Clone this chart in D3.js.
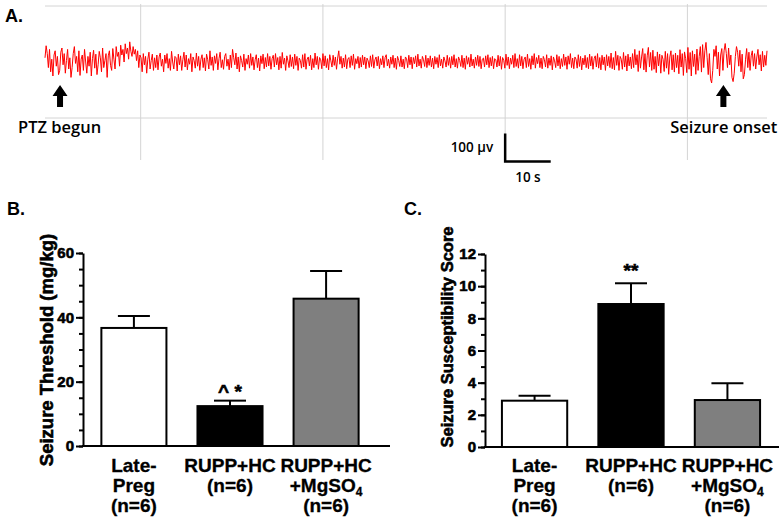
<!DOCTYPE html>
<html>
<head>
<meta charset="utf-8">
<script src="https://cdn.jsdelivr.net/npm/d3@7"></script>
<style>
  body { margin: 0; background: #fff; }
  text { font-family: "Liberation Sans", Arial, sans-serif; }
  .heavy { stroke: #000; stroke-width: 0.6px; }
</style>
</head>
<body>
<svg id="fig" width="782" height="524"></svg>
<script>
// ---- panel A: EEG trace (µV, one sample every 0.248 s, starting at -21 s) ----
const traceStart = -21;
const traceStep = 0.248;
const eegTrace = [
  15, 58, 30, -20, 45, -35, 10, -50, 25, 40, -15, 20, -45, -30, 35, 50, -10, 30, -40, 5,
  45, -25, 15, -55, -20, 30, 55, -5, 20, -35, 40, -48, 10, 25, -30, 45, 0, -40, 20, -15,
  35, -50, 12, 42, -22, 28, -45, -10, 38, 15, -35, 50, -20, 5, 30, -55, 22, 40, -12, -30,
  48, 10, -25, 55, 20, 35, -15, 60, 25, 45, 0, 65, 30, 50, 10, 72, 38, 20, 55, 28,
  45, 5, 40, -20, 25, 15, -35, 30, -10, 20, -40, 10, 35, -25, 5, 28, -30, 15, -20, 25,
  -28, 18, 32, -15, 10, -35, 25, -5, 30, -22, 12, -30, 38, 0, -25, 20, 15, -32, 28, -10,
  22, -30, 8, 35, -18, 25, -28, 12, -8, 30, -35, 18, 5, -22, 32, -15, 20, -30, 10, 26,
  -20, 15, -32, 28, 8, -25, 40, -12, 18, -30, 22, -5, 30, -28, 12, 35, -20, 8, -26, 20,
  30, -15, 10, -28, 25, -20, 45, 15, -10, 32, -25, 18, -35, 22, 5, -18, 28, -30, 12, -8,
  25, -22, 30, -12, 18, -28, 8, 26, -20, 14, -32, 22, -6, 28, -24, 16, -18, 30, -14, 20,
  -26, 12, 24, -18, 30, -10, 16, -28, 20, -22, 34, -8, 14, -30, 22, 4, -20, 26, -16, 18,
  -24, 28, -12, 20, -30, 14, 6, -22, 26, -18, 30, -26, 10, 18, -14, 24, -28, 12, -20, 32,
  -10, 20, -26, 16, 8, -24, 30, -14, 22, -20, 12, -28, 26, 4, -18, 24, -12, 18, -26, 14,
  40, -8, 20, -22, 14, -18, 26, -24, 10, 16, -20, 22, -12, 28, -26, 12, -6, 20, -22, 16,
  -18, 24, -10, 18, -24, 14, 4, -20, 22, -16, 26, -22, 8, 18, -14, 20, -24, 12, -10, 22,
  -20, 16, 26, -14, 10, -22, 18, -8, 24, -20, 14, -26, 20, 6, -16, 22, -18, 10, -24, 18,
  12, -20, 24, -10, 18, -24, 16, -6, 22, -18, 28, -14, 10, -22, 20, 8, -16, 24, -20, 14,
  -12, 22, -18, 14, -24, 20, -8, 16, -20, 26, -14, 10, -22, 18, 4, -18, 24, -12, 16, -22,
  20, -10, 26, -18, 12, -22, 18, 6, -16, 24, -20, 14, -26, 22, -8, 16, -18, 28, -14, 10,
  -22, 18, -12, 24, -16, 20, -24, 10, 14, -18, 22, -10, 26, -20, 16, -14, 20, -24, 12, 8,
  -18, 24, -14, 20, -26, 16, 6, -22, 28, -12, 18, -24, 14, -8, 24, -20, 30, -16, 12, -22,
  26, -14, 20, -24, 10, 18, -20, 28, -16, 12, -26, 22, -10, 30, -22, 16, -6, 24, -20, 14,
  -24, 20, 8, -18, 26, -22, 14, -12, 22, -28, 18, 4, -20, 26, -14, 20, -24, 12, -16, 28,
  -12, 18, -26, 22, -8, 30, -20, 14, -24, 18, 10, -22, 26, -16, 20, -28, 14, -10, 24, -20,
  16, -24, 28, -14, 20, -26, 12, 22, -18, 30, -22, 16, -28, 24, -10, 18, -30, 26, -14, 20,
  -20, 32, -24, 16, -28, 38, -12, 24, -30, 20, 10, -26, 34, -18, 22, -32, 28, -14, 18, -24,
  30, -20, 45, -10, 26, -34, 40, -22, 18, 48, -28, 30, -36, 22, 52, -18, 34, -30, 42, -26,
  20, -38, 36, -14, 28, -40, 24, 10, -34, 38, -22, 30, -44, 18, 40, -28, 26, -36, 32, -20,
  24, -42, 44, -18, 30, -48, 36, 12, -38, 52, -26, 34, -50, 40, -16, 28, -44, 46, -30, 20,
  55, -36, 62, -20, 40, 70, 15, -45, 30, -60, -75, -30, 45, 20, 58, -25, 35, -50, 25, 48,
  -30, 40, 66, 30, -20, 50, -10, 25, -55, -70, -40, 20, 55, 35, -15, 42, -35, 28, -60, -45,
  10, 48, -20, 35, -30, 22, 40, -15, 30, -25, 18, 45, -10, 26, -32, 38, -18, 24, -12, 40
];
const gridTimes = [0, 40, 80, 120];          // s
const gridVolts = [200, -200];               // µV
const events = [
  { t: -17.7, label: "PTZ begun", anchor: "start", dx: -42 },
  { t: 127.9, label: "Seizure onset", anchor: "end", dx: 54 }
];
const scaleBar = { t: 80, dt: 10, v: -355, dv: 100, vLabel: "100 µv", tLabel: "10 s" };

// ---- panels B and C ----
const groupLines = [["Late-", "Preg", "(n=6)"], ["RUPP+HC", "(n=6)"], ["RUPP+HC", "+MgSO4", "(n=6)"]];
const groupFills = ["#ffffff", "#000000", "#7f7f7f"];
const thresholdMean = [36.7, 12.4, 45.8];
const thresholdSem = [3.7, 1.7, 8.6];
const thresholdMarks = ["", "^ *", ""];
const scoreMean = [2.88, 8.89, 2.92];
const scoreSem = [0.31, 1.29, 1.04];
const scoreMarks = ["", "**", ""];

const svg = d3.select("#fig");
const calibri = "'Open Sans', sans-serif";

// ============ Panel A ============
const tScale = d3.scaleLinear()
  .domain([traceStart, traceStart + (eegTrace.length - 1) * traceStep])
  .range([45, 767]);
const vScale = d3.scaleLinear().domain([-100, 100]).range([90, 34]);

const gA = svg.append("g");
gA.append("text").attr("x", 5).attr("y", 22)
  .attr("font-weight", "bold").style("font-size", "18px").text("A.");

gA.selectAll(".hgrid").data(gridVolts).enter().append("line")
  .attr("x1", 45).attr("x2", 767)
  .attr("y1", d => vScale(d)).attr("y2", d => vScale(d))
  .attr("stroke", "#d4d4d4").attr("stroke-width", 1);
gA.selectAll(".vgrid").data(gridTimes).enter().append("line")
  .attr("x1", d => tScale(d)).attr("x2", d => tScale(d))
  .attr("y1", vScale(207)).attr("y2", vScale(-350))
  .attr("stroke", "#d4d4d4").attr("stroke-width", 1);

const line = d3.line()
  .x((d, i) => tScale(traceStart + i * traceStep))
  .y(d => vScale(d));
gA.append("path").datum(eegTrace)
  .attr("d", line).attr("fill", "none")
  .attr("stroke", "#ff0000").attr("stroke-width", 1);

const arrowShape = "M0,0 L7.5,11 L3,11 L3,22 L-3,22 L-3,11 L-7.5,11 Z";
events.forEach(e => {
  const x = tScale(e.t);
  gA.append("path").attr("d", arrowShape)
    .attr("transform", `translate(${x},${vScale(-82)})`).attr("fill", "#000");
  gA.append("text").attr("x", x + e.dx).attr("y", 133)
    .attr("text-anchor", e.anchor)
    .style("font-family", calibri).attr("font-weight", 600)
    .style("font-size", "16.5px").text(e.label);
});

// scale bar
const sbx0 = tScale(scaleBar.t), sbx1 = tScale(scaleBar.t + scaleBar.dt);
const sby0 = vScale(scaleBar.v), sby1 = vScale(scaleBar.v + scaleBar.dv);
gA.append("path")
  .attr("d", `M${sbx0},${sby1} L${sbx0},${sby0} L${sbx1},${sby0}`)
  .attr("fill", "none").attr("stroke", "#000").attr("stroke-width", 2.5);
gA.append("text").attr("x", sbx0 - 12).attr("y", (sby0 + sby1) / 2 + 5)
  .attr("text-anchor", "end")
  .style("font-family", calibri).attr("font-weight", 600)
  .style("font-size", "13.5px").text(scaleBar.vLabel);
gA.append("text").attr("x", (sbx0 + sbx1) / 2).attr("y", sby0 + 21)
  .attr("text-anchor", "middle")
  .style("font-family", calibri).attr("font-weight", 600)
  .style("font-size", "13.5px").text(scaleBar.tLabel);

// ============ Panels B, C ============
function barPanel(o) {
  const g = svg.append("g");
  const y = d3.scaleLinear().domain([0, o.max]).range([o.y0, o.yTop]);
  const x = d3.scaleBand().domain(d3.range(o.mean.length))
    .range(o.xRange).paddingInner(0.323).paddingOuter(0.16);

  g.append("text").attr("x", o.letterX).attr("y", 215)
    .attr("font-weight", "bold").style("font-size", "18px").text(o.letter);

  // bars
  g.selectAll(".bar").data(o.mean).enter().append("rect")
    .attr("x", (d, i) => x(i)).attr("width", x.bandwidth())
    .attr("y", d => y(d)).attr("height", d => y(0) - y(d))
    .attr("fill", (d, i) => groupFills[i])
    .attr("stroke", "#000").attr("stroke-width", 2);

  // error bars (upper only)
  const cap = 16;
  o.mean.forEach((m, i) => {
    const cx = x(i) + x.bandwidth() / 2;
    g.append("line").attr("x1", cx).attr("x2", cx)
      .attr("y1", y(m)).attr("y2", y(m + o.sem[i]))
      .attr("stroke", "#000").attr("stroke-width", 2);
    g.append("line").attr("x1", cx - cap).attr("x2", cx + cap)
      .attr("y1", y(m + o.sem[i])).attr("y2", y(m + o.sem[i]))
      .attr("stroke", "#000").attr("stroke-width", 2);
    if (o.marks[i]) {
      g.append("text").attr("x", cx).attr("y", y(m + o.sem[i]) - o.markGap)
        .attr("text-anchor", "middle").attr("class", "heavy")
        .attr("font-weight", "bold").style("font-size", "19px")
        .attr("xml:space", "preserve").text(o.marks[i]);
    }
  });

  // y axis
  const minorAxis = d3.axisLeft(y).tickValues(o.minor).tickSize(4).tickFormat("");
  const majorAxis = d3.axisLeft(y).tickValues(o.major).tickSize(7).tickSizeOuter(0).tickPadding(2);
  const gm = g.append("g").attr("transform", `translate(${o.axisX},0)`).call(minorAxis);
  gm.select(".domain").remove();
  gm.selectAll("line").attr("stroke-width", 2);
  const ga = g.append("g").attr("transform", `translate(${o.axisX},0)`).call(majorAxis);
  ga.select(".domain").attr("stroke-width", 2);
  ga.selectAll("line").attr("stroke-width", 2);
  ga.selectAll("text").attr("fill", "#000").attr("class", "heavy")
    .style("font-weight", "bold").style("font-size", "15px");

  // x axis baseline
  g.append("line").attr("x1", o.axisX - 1).attr("x2", o.axisEnd)
    .attr("y1", y(0)).attr("y2", y(0)).attr("stroke", "#000").attr("stroke-width", 2);

  // y label
  g.append("text")
    .attr("transform", `translate(${o.labelX},${o.labelY}) rotate(-90)`)
    .attr("text-anchor", "middle").attr("class", "heavy")
    .attr("font-weight", "bold").style("font-size", o.labelSize).text(o.yLabel);

  // category labels
  groupLines.forEach((lines, i) => {
    const cx = x(i) + x.bandwidth() / 2;
    const t = g.append("text").attr("text-anchor", "middle")
      .attr("font-weight", "bold").style("font-size", "19px")
      .attr("stroke", "#000").attr("stroke-width", 0.3);
    lines.forEach((ln, j) => {
      const ts = t.append("tspan").attr("x", cx).attr("y", 472 + j * 20);
      if (ln.endsWith("SO4")) {
        ts.text(ln.slice(0, -1));
        t.append("tspan").attr("dy", 4).style("font-size", "12px").text("4");
      } else {
        ts.text(ln);
      }
    });
  });
}

barPanel({
  letter: "B.", letterX: 7,
  mean: thresholdMean, sem: thresholdSem, marks: thresholdMarks, markGap: 3,
  max: 60, major: [0, 20, 40, 60], minor: d3.range(0, 61, 5),
  y0: 446, yTop: 253, axisX: 83, axisEnd: 390, xRange: [86, 374],
  yLabel: "Seizure Threshold (mg/kg)", labelX: 53, labelY: 350, labelSize: "18.5px"
});

barPanel({
  letter: "C.", letterX: 404,
  mean: scoreMean, sem: scoreSem, marks: scoreMarks, markGap: 6,
  max: 12, major: [0, 2, 4, 6, 8, 10, 12], minor: d3.range(0, 13, 1),
  y0: 447, yTop: 254, axisX: 485, axisEnd: 779, xRange: [486.5, 775.5],
  yLabel: "Seizure Susceptibility Score", labelX: 453, labelY: 337, labelSize: "16.5px"
});
</script>
</body>
</html>
